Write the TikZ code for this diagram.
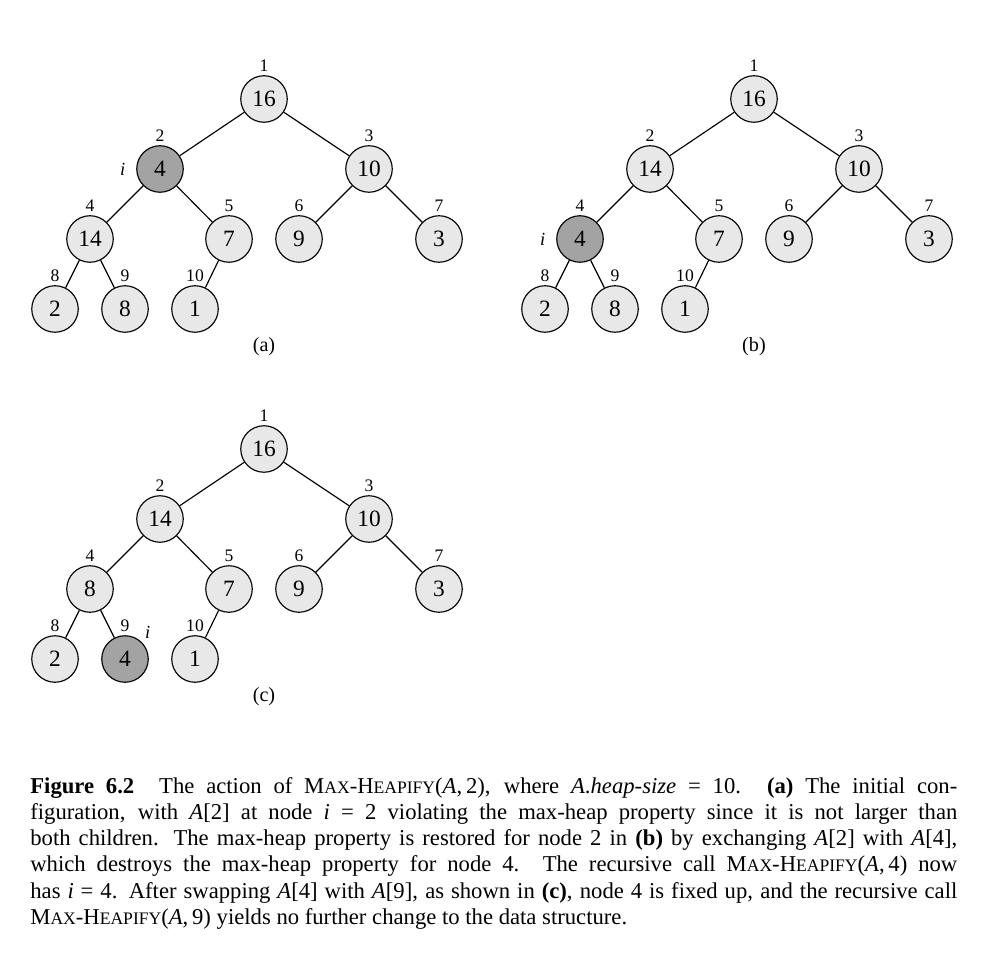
\documentclass[tikz,border=0pt]{standalone}
\usepackage{fontspec}
\setmainfont{Liberation Serif}
\usepackage{tikz}

\definecolor{keylight}{gray}{0.91}
\definecolor{keydark}{gray}{0.64}
\newcommand{\mheap}{M{\fontsize{10}{10}\selectfont AX}-H{\fontsize{10}{10}\selectfont EAPIFY}}

\begin{document}
\begin{tikzpicture}[
		key/.style={circle,draw,line width=0.65pt,fill=keylight,minimum size=0.93cm,inner sep=0pt,font=\fontsize{13.3}{14}\selectfont},
		hot/.style={key,fill=keydark},
		ilabel/.style={font=\fontsize{10.5}{12}\selectfont\itshape,label distance=5pt},
		every label/.style={font=\fontsize{10}{11}\selectfont,inner sep=1pt},
		label distance=1pt,
		every edge/.style={draw,line width=0.65pt},
		sub/.style={font=\fontsize{11.5}{12}\selectfont}]
		\useasboundingbox (0,0) rectangle (19.84,-19.44);
		
		% (a)
		\begin{scope}[shift={(5.28,-1.98)}]
			\node[key,label=above:1] (a1) at (0,0) {16};
			\node[hot,label=above:2,label={[ilabel]left:i}] (a2) at (-2.08,-1.4) {4};
			\node[key,label=above:3] (a3) at (2.1,-1.4) {10};
			\node[key,label=above:4] (a4) at (-3.48,-2.8) {14};
			\node[key,label=above:5] (a5) at (-0.7,-2.8) {7};
			\node[key,label=above:6] (a6) at (0.7,-2.8) {9};
			\node[key,label=above:7] (a7) at (3.5,-2.8) {3};
			\node[key,label=above:8] (a8) at (-4.18,-4.2) {2};
			\node[key,label=above:9] (a9) at (-2.78,-4.2) {8};
			\node[key,label=above:10] (a10) at (-1.38,-4.2) {1};
			\node[sub] (acap) at (0,-4.96) {(a)};
			\path (a1) edge (a2) edge (a3);
			\path (a2) edge (a4) edge (a5);
			\path (a3) edge (a6) edge (a7);
			\path (a4) edge (a8) edge (a9);
			\path (a5) edge (a10);
		\end{scope}
		
		% (b)
		\begin{scope}[shift={(15.08,-1.98)}]
			\node[key,label=above:1] (b1) at (0,0) {16};
			\node[key,label=above:2] (b2) at (-2.08,-1.4) {14};
			\node[key,label=above:3] (b3) at (2.1,-1.4) {10};
			\node[hot,label=above:4,label={[ilabel]left:i}] (b4) at (-3.48,-2.8) {4};
			\node[key,label=above:5] (b5) at (-0.7,-2.8) {7};
			\node[key,label=above:6] (b6) at (0.7,-2.8) {9};
			\node[key,label=above:7] (b7) at (3.5,-2.8) {3};
			\node[key,label=above:8] (b8) at (-4.18,-4.2) {2};
			\node[key,label=above:9] (b9) at (-2.78,-4.2) {8};
			\node[key,label=above:10] (b10) at (-1.38,-4.2) {1};
			\node[sub] (bcap) at (0,-4.96) {(b)};
			\path (b1) edge (b2) edge (b3);
			\path (b2) edge (b4) edge (b5);
			\path (b3) edge (b6) edge (b7);
			\path (b4) edge (b8) edge (b9);
			\path (b5) edge (b10);
		\end{scope}
		
		% (c)
		\begin{scope}[shift={(5.28,-8.98)}]
			\node[key,label=above:1] (c1) at (0,0) {16};
			\node[key,label=above:2] (c2) at (-2.08,-1.4) {14};
			\node[key,label=above:3] (c3) at (2.1,-1.4) {10};
			\node[key,label=above:4] (c4) at (-3.48,-2.8) {8};
			\node[key,label=above:5] (c5) at (-0.7,-2.8) {7};
			\node[key,label=above:6] (c6) at (0.7,-2.8) {9};
			\node[key,label=above:7] (c7) at (3.5,-2.8) {3};
			\node[key,label=above:8] (c8) at (-4.18,-4.2) {2};
			\node[hot,label=above:9,label={[ilabel,label distance=1pt]45:i}] (c9) at (-2.78,-4.2) {4};
			\node[key,label=above:10] (c10) at (-1.38,-4.2) {1};
			\node[sub] (ccap) at (0,-4.96) {(c)};
			\path (c1) edge (c2) edge (c3);
			\path (c2) edge (c4) edge (c5);
			\path (c3) edge (c6) edge (c7);
			\path (c4) edge (c8) edge (c9);
			\path (c5) edge (c10);
		\end{scope}
		
		% caption
		\node[anchor=base west,inner sep=0pt,text width=18.54cm,align=justify,
			font=\fontsize{12.9}{14.95}\selectfont] (caption) at (0.6,-15.86)
			{\textbf{Figure 6.2}\hspace{1.1em}The action of \mheap(\textit{A},\,2), where \textit{A}.\textit{heap-size} = 10. \textbf{(a)} The initial con-\linebreak
			figuration, with \textit{A}[2] at node \textit{i} = 2 violating the max-heap property since it is not larger than\linebreak
			both children. The max-heap property is restored for node 2 in \textbf{(b)} by exchanging \textit{A}[2] with \textit{A}[4],\linebreak
			which destroys the max-heap property for node 4. The recursive call \mheap(\textit{A},\,4) now\linebreak
			has \textit{i} = 4. After swapping \textit{A}[4] with \textit{A}[9], as shown in \textbf{(c)}, node 4 is fixed up, and the recursive call\linebreak
			\mheap(\textit{A},\,9) yields no further change to the data structure.};
	\end{tikzpicture}
\end{document}
